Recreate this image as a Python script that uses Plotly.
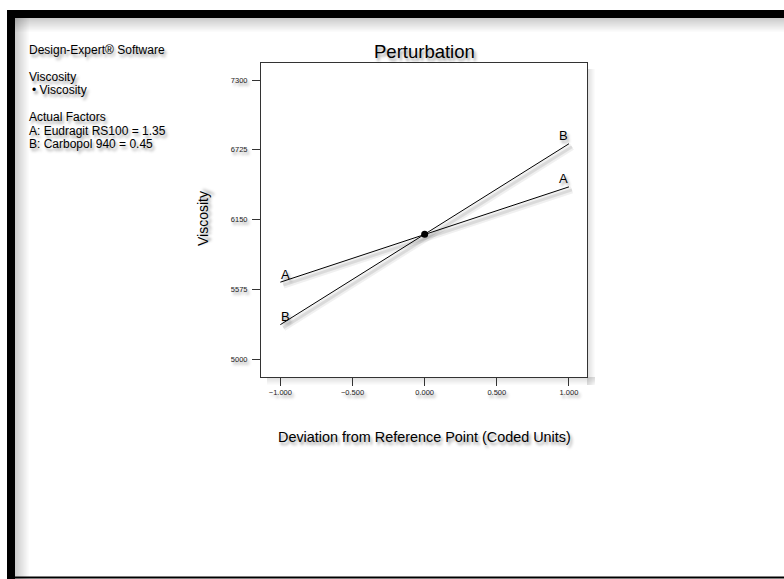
import plotly.graph_objects as go

# ---------------- data ----------------
deviation = [-1.0, 0.0, 1.0]          # coded deviation from reference point
visc_A = [5635, 6030, 6420]           # factor A: Eudragit RS100
visc_B = [5285, 6030, 6775]           # factor B: Carbopol 940
ref_dev = [0.0]
ref_visc = [6030]
x_ticks = [-1.0, -0.5, 0.0, 0.5, 1.0]
y_ticks = [5000, 5575, 6150, 6725, 7300]
x_range = [-1.134, 1.125]
y_range = [4854, 7440]
factor_labels = ["A", "B"]
info_lines = [
    "Design-Expert® Software",
    "Viscosity",
    "\u2022 Viscosity",
    "Actual Factors",
    "A: Eudragit RS100 = 1.35",
    "B: Carbopol 940 = 0.45",
]

# ---------------- layout geometry ----------------
W, H = 784, 579
L, R, T, B = 261, 587, 63, 377
PW, PH = R - L, B - T
FONT = "Liberation Sans, Arial, sans-serif"
SHADOW = "2px 3px 3px rgba(0,0,0,0.4)"


def px(xp):
    return (xp - L) / PW


def py(yp):
    return (B - yp) / PH


fig = go.Figure()

# soft shadow copies of the lines (on slightly offset axes)
sh = 3
for vals in (visc_A, visc_B):
    fig.add_trace(go.Scatter(x=deviation, y=vals, mode="lines",
                             line=dict(color="rgba(0,0,0,0.06)", width=7),
                             xaxis="x2", yaxis="y2", hoverinfo="skip",
                             showlegend=False))
    fig.add_trace(go.Scatter(x=deviation, y=vals, mode="lines",
                             line=dict(color="rgba(0,0,0,0.09)", width=3),
                             xaxis="x2", yaxis="y2", hoverinfo="skip",
                             showlegend=False))

for vals in (visc_A, visc_B):
    fig.add_trace(go.Scatter(x=deviation, y=vals, mode="lines",
                             line=dict(color="black", width=1),
                             showlegend=False))

fig.add_trace(go.Scatter(x=ref_dev, y=ref_visc, mode="markers",
                         marker=dict(color="black", size=7),
                         showlegend=False))

# factor labels at line ends
annotations = []
for lab, vals in zip(factor_labels, (visc_A, visc_B)):
    for xi, yi, shift in ((deviation[0], vals[0], 5), (deviation[-1], vals[-1], -5)):
        annotations.append(dict(x=xi, y=yi, text=lab, showarrow=False,
                                xshift=shift, yshift=8,
                                font=dict(size=13, color="black", family=FONT, shadow=SHADOW)))

# info text on left
info_y = [50, 77, 90, 117, 131, 144]
for txt, yp in zip(info_lines, info_y):
    xp = 30 if txt.startswith("\u2022") else 27
    annotations.append(dict(x=px(xp), y=py(yp), xref="paper", yref="paper",
                            xanchor="left", yanchor="middle", text=txt, showarrow=False,
                            font=dict(size=12, color="black", family=FONT, shadow=SHADOW)))

# title and axis titles
annotations.append(dict(x=0.5, y=py(52), xref="paper", yref="paper", text="Perturbation",
                        showarrow=False, xanchor="center", yanchor="middle",
                        font=dict(size=18.5, color="black", family=FONT, shadow=SHADOW)))
annotations.append(dict(x=px(424), y=py(437), xref="paper", yref="paper",
                        text="Deviation from Reference Point (Coded Units)",
                        showarrow=False, xanchor="center", yanchor="middle",
                        font=dict(size=14.4, color="black", family=FONT, shadow=SHADOW)))
annotations.append(dict(x=px(203), y=py(219), xref="paper", yref="paper",
                        text="Viscosity", textangle=-90,
                        showarrow=False, xanchor="center", yanchor="middle",
                        font=dict(size=14, color="black", family=FONT, shadow=SHADOW)))

shapes = []


def rect(x0, y0, x1, y1, color, layer="above"):
    shapes.append(dict(type="rect", xref="paper", yref="paper",
                       x0=px(x0), x1=px(x1), y0=py(y1), y1=py(y0),
                       fillcolor=color, line=dict(width=0), layer=layer))


# inner shadow of the page frame
for i in range(14):
    a = 0.2 * (1 - i / 14)
    rect(15, 18 + i, 784, 19 + i, f"rgba(0,0,0,{a:.3f})", layer="below")
    rect(15 + i, 18, 16 + i, 579, f"rgba(0,0,0,{a:.3f})", layer="below")

# plot frame shadow
for i in range(8):
    a = 0.13 * (1 - i / 8)
    rect(R + i, T + 6, R + 1 + i, B + 8, f"rgba(0,0,0,{a:.3f})", layer="below")
    rect(L + 6, B + i, R + 8, B + 1 + i, f"rgba(0,0,0,{a:.3f})", layer="below")

# page frame
rect(7, 10, 784, 18, "black")
rect(7, 10, 15, 579, "black")
rect(7, 576.5, 784, 578.5, "black")

axis_common = dict(showgrid=False, zeroline=False, showline=True, mirror=True,
                   linecolor="#333", linewidth=1, ticks="outside", ticklen=8,
                   tickwidth=1, tickcolor="#333",
                   tickfont=dict(size=7.5, color="#222", family=FONT, shadow=SHADOW))

xr_span = x_range[1] - x_range[0]
yr_span = y_range[1] - y_range[0]

fig.update_layout(
    width=W, height=H,
    margin=dict(l=L, r=W - R, t=T, b=H - B, pad=0),
    paper_bgcolor="white", plot_bgcolor="rgba(0,0,0,0)",
    font=dict(family=FONT, color="black"),
    xaxis=dict(range=x_range, tickvals=x_ticks, tickformat=".3f", **axis_common),
    yaxis=dict(range=y_range, tickvals=y_ticks, tickformat="d", ticklabelstandoff=3, **axis_common),
    xaxis2=dict(range=[x_range[0], x_range[1] - sh * xr_span / PW], domain=[sh / PW, 1],
                visible=False, anchor="y2"),
    yaxis2=dict(range=[y_range[0] + sh * yr_span / PH, y_range[1]], domain=[0, 1 - sh / PH],
                visible=False, anchor="x2"),
    annotations=annotations,
    shapes=shapes,
    showlegend=False,
)

fig.write_html(
    "out.html",
    config={"staticPlot": True, "displayModeBar": False},
    post_script="document.body.style.margin='0';document.body.style.overflow='hidden';",
)
